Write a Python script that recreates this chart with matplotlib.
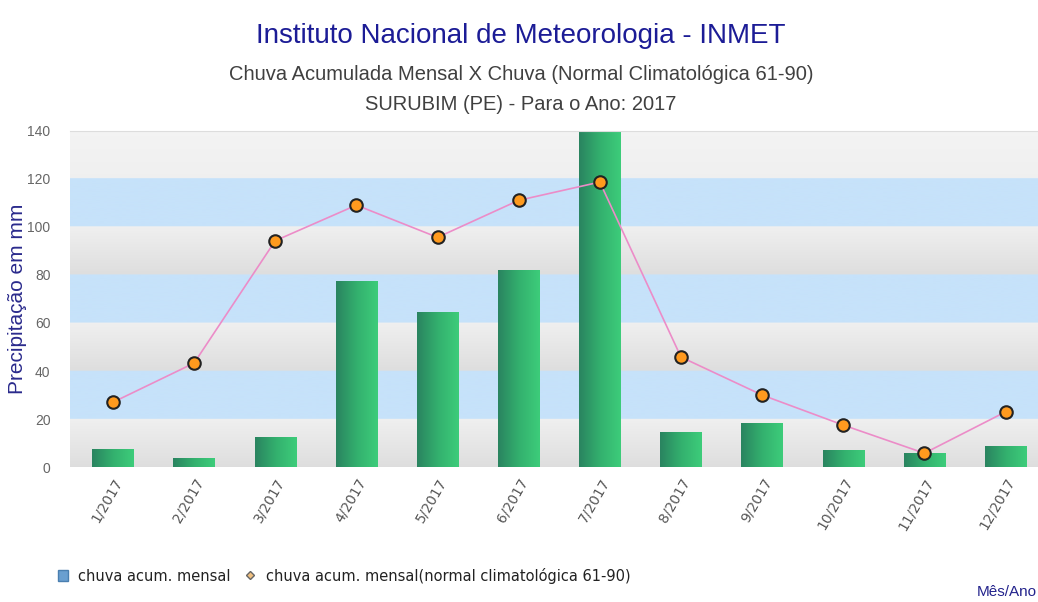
import numpy as np
import matplotlib
matplotlib.use("Agg")
import matplotlib.pyplot as plt
from matplotlib.patches import Patch
from matplotlib.lines import Line2D
from matplotlib.colors import LinearSegmentedColormap

# dados
meses = ["1/2017", "2/2017", "3/2017", "4/2017", "5/2017", "6/2017",
         "7/2017", "8/2017", "9/2017", "10/2017", "11/2017", "12/2017"]
chuva_mensal = [7.5, 4.0, 12.5, 77.5, 64.5, 82.0, 139.5, 14.5, 18.5, 7.0, 6.0, 9.0]
chuva_normal = [27.0, 43.3, 94.2, 109.0, 95.6, 111.0, 118.6, 45.8, 30.0, 17.5, 5.8, 23.0]
y_ticks = [0, 20, 40, 60, 80, 100, 120, 140]

plt.rcParams['font.family'] = ['Liberation Sans', 'DejaVu Sans']

fig = plt.figure(figsize=(10.38, 6.02), dpi=100)
ax = fig.add_axes([0.0674, 0.224, 0.9326, 0.559])

x = np.arange(len(meses))
ax.set_xlim(-0.53, 11.4)
ax.set_ylim(0, 140)

# faixas do fundo (azul / cinza com degrade)
n = 1400
fundo = np.zeros((n, 1, 3))
azul = np.array([198, 226, 250]) / 255
for i in range(n):
    v = 140 * i / n
    faixa = int(v // 20)
    frac = (v - faixa * 20) / 20
    if faixa % 2 == 1 and faixa < 6:
        fundo[i, 0] = azul
    else:
        if faixa >= 6:
            c = 0.955 - 0.015 * (1 - frac)
        else:
            c = 0.94 - 0.07 * (1 - frac)
        fundo[i, 0] = [c, c, c]
ax.imshow(fundo, extent=[-0.53, 11.4, 0, 140], origin='lower', aspect='auto', zorder=0)

# barras com degrade horizontal
barras = ax.bar(x, chuva_mensal, width=0.51, color='#2fae6a', zorder=2)
cmap_verde = LinearSegmentedColormap.from_list('verde', ['#2a8460', '#33b06e', '#3dcc7a'])
grad = np.linspace(0, 1, 64).reshape(1, -1)
for b in barras:
    x0, y0 = b.get_x(), b.get_y()
    im = ax.imshow(grad, cmap=cmap_verde, extent=[x0, x0 + b.get_width(), y0, y0 + b.get_height()],
                   aspect='auto', zorder=2.5)
    im.set_clip_path(b)

# linha da normal climatologica
ax.plot(x, chuva_normal, color='#ec8cc8', linewidth=1.2, zorder=3)
ax.plot(x, chuva_normal, linestyle='none', marker='o', markersize=9,
        markerfacecolor='#ff9a1e', markeredgecolor='#222222', markeredgewidth=1.5, zorder=4)

ax.set_xticks(x)
ax.set_xticklabels(meses, rotation=60, ha='right', rotation_mode='anchor',
                   fontsize=10, color='#555555', family=['DejaVu Sans'])
ax.set_yticks(y_ticks)
ax.set_yticklabels([str(t) for t in y_ticks], fontsize=10, color='#666666')
ax.tick_params(axis='both', length=0)
ax.tick_params(axis='y', pad=14)
ax.tick_params(axis='x', pad=6)
for s in ['left', 'right', 'bottom']:
    ax.spines[s].set_visible(False)
ax.spines['top'].set_color('#dddddd')

ax.set_ylabel("Precipitação em mm", fontsize=15, color='#2a2a8c', labelpad=2)
ax.yaxis.set_label_coords(-0.044, 0.5)

# titulos
fig.text(0.502, 0.94, "Instituto Nacional de Meteorologia - INMET", ha='center', va='center',
         fontsize=20, color='#1c1c96')
fig.text(0.502, 0.877, "Chuva Acumulada Mensal X Chuva (Normal Climatológica 61-90)",
         ha='center', va='center', fontsize=14.5, color='#404040')
fig.text(0.502, 0.827, "SURUBIM (PE) - Para o Ano: 2017", ha='center', va='center',
         fontsize=14.5, color='#404040')

# legenda
handles = [Patch(facecolor='#6a9fd0', edgecolor='#4a7fb0'),
           Line2D([], [], linestyle='none', marker='D', markersize=4,
                  markerfacecolor='#f0c080', markeredgecolor='#666666')]
fig.legend(handles, ["chuva acum. mensal", "chuva acum. mensal(normal climatológica 61-90)"],
           loc='center left', bbox_to_anchor=(0.043, 0.044), ncol=2, frameon=False,
           handlelength=0.7, handleheight=0.7, handletextpad=0.7, columnspacing=1.0,
           prop={'family': 'DejaVu Sans', 'size': 10.5})
for t in fig.legends[0].get_texts():
    t.set_color('#222222')

fig.text(0.999, 0.017, "Mês/Ano", ha='right', va='center', fontsize=11, color='#23238c')

fig.savefig("out.png", dpi=100)
